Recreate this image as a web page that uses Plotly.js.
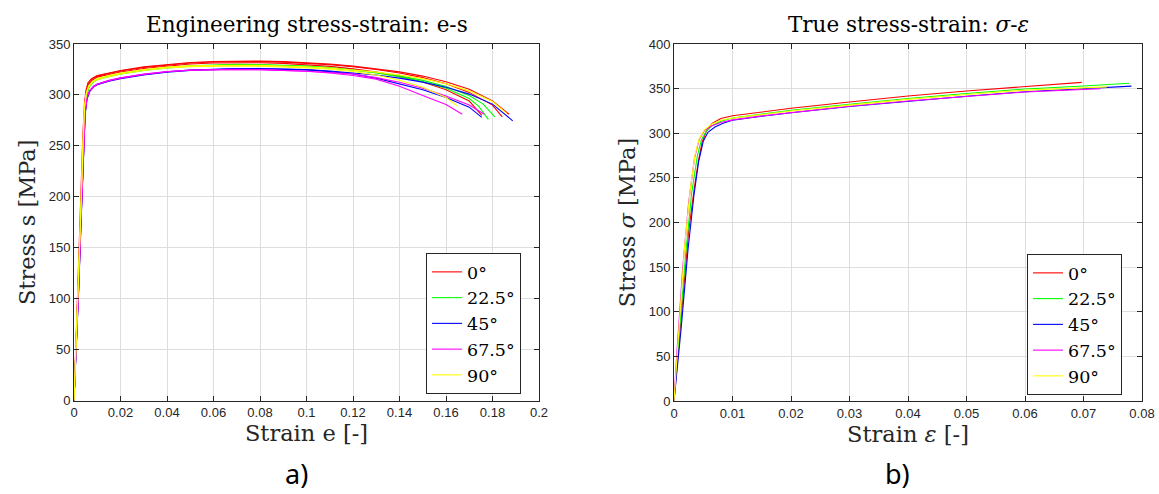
<!DOCTYPE html>
<html>
<head>
<meta charset="utf-8">
<script src="https://cdn.plot.ly/plotly-3.0.1.min.js"></script>
<style>html,body{margin:0;padding:0;background:#fff;}#chart{width:1159px;height:494px;}</style>
</head>
<body>
<div id="chart"></div>
<script>
// ---------- Legend labels and colours ----------
const angleLabels = ["0°", "22.5°", "45°", "67.5°", "90°"];
const angleColors = ["#ff0000", "#00ff00", "#0000ff", "#ff00ff", "#ffff00"];

// ---------- a) Engineering stress-strain (several specimens per orientation) ----------
const engRedAX = [0,0.001,0.002,0.003,0.0038,0.0045,0.0052,0.006,0.0075,0.01,0.015,0.02,0.03,0.04,0.05,0.06,0.07,0.08,0.09,0.1,0.11,0.12,0.13,0.14,0.15,0.16,0.17,0.18,0.1871];
const engRedAY = [0,70,140,205,260,292,305,312,316,319,321.5,324,327.5,330,331.8,332.8,333.2,333.2,332.7,331.7,330.2,328.3,325.8,322.6,318.5,313,305.5,294,281];
const engRedBX = [0,0.001,0.002,0.003,0.0039,0.0046,0.0053,0.0062,0.0078,0.01,0.015,0.02,0.03,0.04,0.05,0.06,0.07,0.08,0.09,0.1,0.11,0.12,0.13,0.14,0.15,0.16,0.17,0.18,0.1842];
const engRedBY = [0,65,135,200,258,290,304,311,315.5,318.5,321,323.5,327,329.5,331.3,332.3,332.7,332.7,332.2,331.2,329.6,327.6,325,321.5,317,311,302.5,290,278.5];
const engRedCX = [0,0.001,0.002,0.003,0.0039,0.0046,0.0053,0.0062,0.0078,0.01,0.015,0.02,0.03,0.04,0.05,0.06,0.07,0.08,0.09,0.1,0.11,0.12,0.13,0.14,0.15,0.16,0.17,0.1754];
const engRedCY = [0,62,130,196,255,288,303,310,314.5,317.5,320,322.5,326,328.5,330.3,331.3,331.7,331.6,331,329.8,328,325.6,322.4,318.2,312.6,305,294,280];

const engGreenAX = [0,0.001,0.002,0.003,0.004,0.0047,0.0055,0.0065,0.008,0.01,0.015,0.02,0.03,0.04,0.05,0.06,0.07,0.08,0.09,0.1,0.11,0.12,0.13,0.14,0.15,0.16,0.17,0.176,0.181];
const engGreenAY = [0,55,120,185,250,286,301,308,312.5,315.5,318.5,321,324.5,327,328.7,329.6,330,329.9,329.3,328.3,326.8,324.8,322.2,318.8,314.3,308.2,299.5,291,278.5];
const engGreenBX = [0,0.001,0.002,0.003,0.004,0.0047,0.0055,0.0065,0.008,0.01,0.015,0.02,0.03,0.04,0.05,0.06,0.07,0.08,0.09,0.1,0.11,0.12,0.13,0.14,0.15,0.16,0.17,0.174,0.1782];
const engGreenBY = [0,53,118,182,248,285,300,307.5,312,315,318,320.5,324,326.5,328.2,329.1,329.5,329.4,328.8,327.8,326.3,324.3,321.5,317.8,313,306.5,296.5,289,276];

const engBlueAX = [0,0.001,0.002,0.003,0.004,0.0048,0.0056,0.0068,0.0085,0.01,0.015,0.02,0.03,0.04,0.05,0.06,0.07,0.08,0.09,0.1,0.11,0.12,0.13,0.14,0.15,0.16,0.17,0.18,0.1887];
const engBlueAY = [0,50,110,175,240,282,297,304,308.5,310.5,314,316.5,320,322.7,324.5,325.5,326,326,325.6,324.8,323.5,321.8,319.5,316.5,312.6,307.6,300.8,291,274.6];
const engBlueBX = [0,0.001,0.002,0.003,0.004,0.0048,0.0056,0.0068,0.0085,0.01,0.015,0.02,0.03,0.04,0.05,0.06,0.07,0.08,0.09,0.1,0.11,0.12,0.13,0.14,0.15,0.16,0.17,0.1754];
const engBlueBY = [0,48,108,172,238,281,296,303.5,308,310,313.5,316,319.5,322.3,324.1,325.1,325.6,325.6,325.2,324.6,322.9,320.5,316.5,311,305,297.5,288,278];

const engMagentaAX = [0,0.001,0.002,0.003,0.004,0.0048,0.0056,0.0068,0.0085,0.01,0.015,0.02,0.03,0.04,0.05,0.06,0.07,0.08,0.09,0.1,0.11,0.12,0.13,0.14,0.15,0.16,0.167];
const engMagentaAY = [0,52,112,178,242,283,298,304.5,308.5,310.8,314.3,316.8,320.5,323,324.4,325,325.1,324.8,324.2,323.2,321.6,319.1,315.5,308.5,299.5,290.5,281];
const engMagentaBX = [0,0.001,0.002,0.003,0.004,0.0048,0.0056,0.0068,0.0085,0.01,0.015,0.02,0.03,0.04,0.05,0.06,0.07,0.08,0.09,0.1,0.11,0.12,0.13,0.14,0.15,0.16,0.17,0.1765];
const engMagentaBY = [0,50,110,176,240,282,297.5,304,308,310.5,314,316.5,320.2,322.8,324.2,324.8,325,324.8,324.2,323.3,322,320.5,317,312.5,306.5,299,290,281];

const engYellowAX = [0,0.001,0.002,0.003,0.0038,0.0045,0.0053,0.0063,0.008,0.01,0.015,0.02,0.03,0.04,0.05,0.06,0.07,0.08,0.09,0.1,0.11,0.12,0.13,0.14,0.15,0.16,0.17,0.18,0.186];
const engYellowAY = [0,58,125,192,252,288,302,309,313.5,316,319,321.5,325,327.3,328.5,329,329.2,329,328.5,327.6,326.3,324.6,322.4,319.6,316,311,304,293.5,282];
const engYellowBX = [0,0.001,0.002,0.003,0.0038,0.0045,0.0053,0.0063,0.008,0.01,0.015,0.02,0.03,0.04,0.05,0.06,0.07,0.08,0.09,0.1,0.11,0.12,0.13,0.14,0.15,0.16,0.165];
const engYellowBY = [0,56,122,190,250,287,301,308,312.5,315,318,320.5,324,326.5,327.8,328.3,328.4,328.1,327.5,326.6,325.2,323,319.5,314.5,307.5,297.5,289];

// ---------- b) True stress-strain ----------
const trueRedX = [0,0.0013,0.0025,0.0035,0.0042,0.0048,0.0055,0.0065,0.008,0.01,0.015,0.02,0.03,0.04,0.05,0.06,0.0697];
const trueRedY = [0,98,190,240,270,290,302,311,316.5,319.7,324,328,335,341.7,347.3,352.2,357];
const trueGreenX = [0,0.001,0.002,0.003,0.004,0.0047,0.0055,0.0065,0.008,0.01,0.015,0.02,0.03,0.04,0.05,0.06,0.07,0.0778];
const trueGreenY = [0,80,165,232,275,293,302,308.5,313.5,317,321.5,325.7,332.5,339,344.5,349.6,353,356];
const trueBlueX = [0,0.0012,0.0024,0.0034,0.0042,0.005,0.0058,0.007,0.0085,0.01,0.015,0.02,0.03,0.04,0.05,0.06,0.07,0.0782];
const trueBlueY = [0,80,170,230,268,291,301,307,311.5,314.5,319,323,330,336,341.5,346.5,350,352.8];
const trueMagentaX = [0,0.0005,0.0015,0.0025,0.0035,0.0043,0.0052,0.0065,0.008,0.01,0.015,0.02,0.03,0.04,0.05,0.06,0.0729];
const trueMagentaY = [0,55,150,222,272,293,303,308.5,312,315,319.5,323.3,330.2,336.2,341.5,346.3,349.8];
const trueYellowX = [0,0.0008,0.0018,0.0028,0.0036,0.0043,0.0052,0.0065,0.008,0.01,0.015,0.02,0.03,0.04,0.05,0.06,0.074];
const trueYellowY = [0,80,172,238,276,294,304,310.5,314.5,317,321,325,331.5,338,343.5,348.3,352];

// ---------- Build traces ----------
const engGroups = [
  [[engRedAX, engRedAY], [engRedBX, engRedBY], [engRedCX, engRedCY]],
  [[engGreenAX, engGreenAY], [engGreenBX, engGreenBY]],
  [[engBlueAX, engBlueAY], [engBlueBX, engBlueBY]],
  [[engMagentaAX, engMagentaAY], [engMagentaBX, engMagentaBY]],
  [[engYellowAX, engYellowAY], [engYellowBX, engYellowBY]]
];
const trueCurves = [
  [trueRedX, trueRedY], [trueGreenX, trueGreenY], [trueBlueX, trueBlueY],
  [trueMagentaX, trueMagentaY], [trueYellowX, trueYellowY]
];

const traces = [];
engGroups.forEach((group, i) => {
  group.forEach((c, j) => {
    traces.push({
      x: c[0], y: c[1], type: "scatter", mode: "lines",
      name: angleLabels[i], showlegend: j === 0,
      line: {color: angleColors[i], width: 1.1},
      xaxis: "x", yaxis: "y", legend: "legend"
    });
  });
});
trueCurves.forEach((c, i) => {
  traces.push({
    x: c[0], y: c[1], type: "scatter", mode: "lines",
    name: angleLabels[i],
    line: {color: angleColors[i], width: 1.1},
    xaxis: "x2", yaxis: "y2", legend: "legend2"
  });
});

const W = 1159, H = 494;
const serif = "DejaVu Serif, serif";
const sans = "Liberation Sans, Arial, Helvetica, sans-serif";
const axisCommon = {
  showline: true, linecolor: "#262626", linewidth: 1, mirror: "ticks",
  ticks: "inside", ticklen: 5, tickcolor: "#262626",
  showgrid: true, gridcolor: "#dedede", gridwidth: 1, zeroline: false,
  tickfont: {family: sans, size: 13, color: "#262626"}, fixedrange: true
};
const legendCommon = {
  bgcolor: "#ffffff", bordercolor: "#262626", borderwidth: 1,
  font: {family: serif, size: 17.5, color: "#000"},
  xanchor: "left", yanchor: "top", itemwidth: 30, tracegroupgap: 0, traceorder: "normal"
};
const axTitleFont = {family: serif, size: 22.5, color: "#262626"};
const panelFont = {family: "Noto Sans, Open Sans, sans-serif", size: 27, color: "#000"};

const layout = {
  width: W, height: H,
  margin: {l: 0, r: 0, t: 0, b: 0},
  paper_bgcolor: "#ffffff", plot_bgcolor: "#ffffff",
  showlegend: true,
  xaxis: Object.assign({}, axisCommon, {
    domain: [74 / W, 539 / W], range: [0, 0.2], dtick: 0.02, anchor: "y",
    title: {text: "Strain e [-]", font: axTitleFont, standoff: 6}
  }),
  yaxis: Object.assign({}, axisCommon, {
    domain: [1 - 400.5 / H, 1 - 44 / H], range: [0, 350], dtick: 50, anchor: "x",
    title: {text: "Stress s [MPa]", font: axTitleFont, standoff: 6}
  }),
  xaxis2: Object.assign({}, axisCommon, {
    domain: [674 / W, 1142 / W], range: [0, 0.08], dtick: 0.01, anchor: "y2",
    title: {text: "Strain <i>ε</i> [-]", font: axTitleFont, standoff: 6}
  }),
  yaxis2: Object.assign({}, axisCommon, {
    domain: [1 - 401 / H, 1 - 44 / H], range: [0, 400], dtick: 50, anchor: "x2",
    title: {text: "Stress <i>σ</i> [MPa]", font: axTitleFont, standoff: 6}
  }),
  legend: Object.assign({}, legendCommon, {x: 426 / W, y: 1 - 253 / H}),
  legend2: Object.assign({}, legendCommon, {x: 1027 / W, y: 1 - 254 / H}),
  annotations: [
    {text: "Engineering stress-strain: e-s", xref: "paper", yref: "paper",
     x: 306.5 / W, y: 1 - 25 / H, xanchor: "center", yanchor: "middle", showarrow: false,
     font: {family: serif, size: 21.5, color: "#000"}},
    {text: "True stress-strain: <i>σ</i>-<i>ε</i>", xref: "paper", yref: "paper",
     x: 908 / W, y: 1 - 25 / H, xanchor: "center", yanchor: "middle", showarrow: false,
     font: {family: serif, size: 21.5, color: "#000"}},
    {text: "a)", xref: "paper", yref: "paper",
     x: 296 / W, y: 0, xanchor: "center", yanchor: "bottom", showarrow: false, font: panelFont},
    {text: "b)", xref: "paper", yref: "paper",
     x: 897 / W, y: 0, xanchor: "center", yanchor: "bottom", showarrow: false, font: panelFont}
  ]
};

Plotly.newPlot("chart", traces, layout, {displayModeBar: false, staticPlot: true});
</script>
</body>
</html>
